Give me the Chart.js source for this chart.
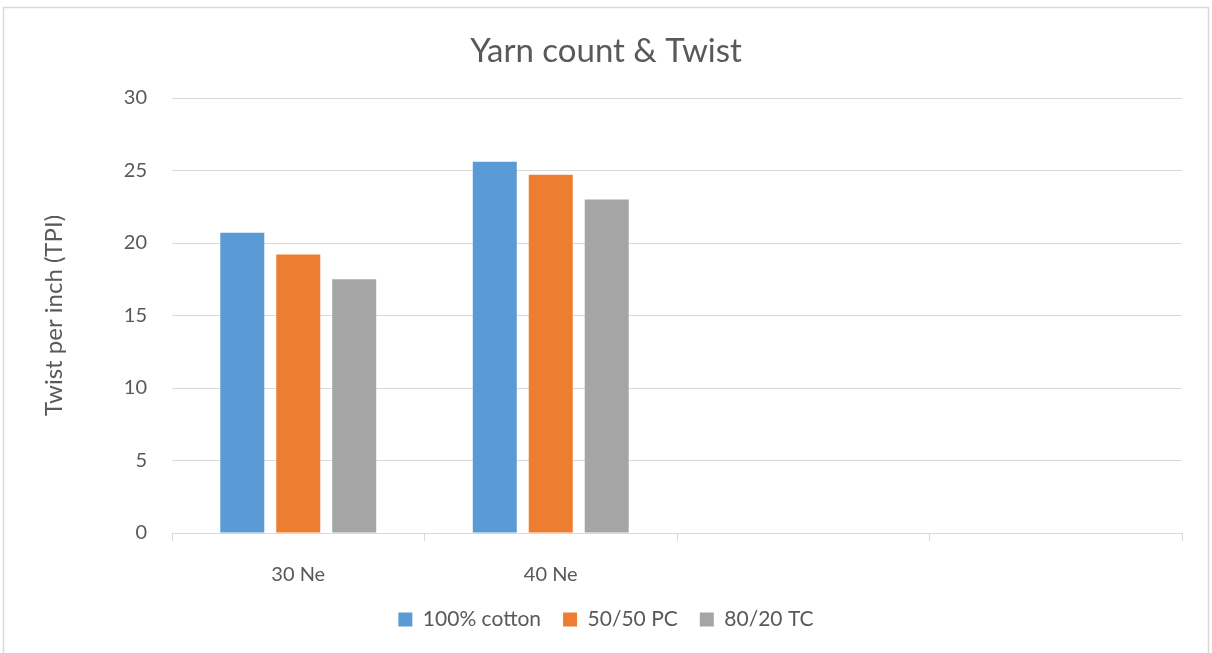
<!DOCTYPE html>
<html>
<head>
<meta charset="utf-8">
<title>Yarn count & Twist</title>
<script src="https://cdn.jsdelivr.net/npm/chart.js@4/dist/chart.umd.min.js"></script>
<style>
  html, body { margin: 0; padding: 0; background: #ffffff; }
  #wrap { width: 1212px; height: 653px; position: relative; }
</style>
</head>
<body>
<div id="wrap"><canvas id="chart" width="1212" height="653"></canvas></div>
<script>
// Yarn counts on the category axis (two empty slots keep the Excel-style spacing)
const categories = ['30 Ne', '40 Ne', '', ''];

// Twist per inch for each blend
const cotton100 = [20.7, 25.6, null, null];
const pc5050    = [19.2, 24.7, null, null];
const tc8020    = [17.5, 23.0, null, null];

const seriesNames = ['100% cotton', '50/50 PC', '80/20 TC'];
const yTicks = { min: 0, max: 30, step: 5 };

const TEXT = '#595959';
const GRID = '#d9d9d9';
const FONT = 'Lato, "Open Sans", "DejaVu Sans", sans-serif';

// light frame around the whole chart
const framePlugin = {
  id: 'frame',
  beforeDraw(chart) {
    const ctx = chart.ctx;
    ctx.save();
    ctx.strokeStyle = GRID;
    ctx.lineWidth = 1.5;
    ctx.strokeRect(3.5, 7.5, 1205, 700);
    ctx.restore();
  }
};

new Chart(document.getElementById('chart'), {
  type: 'bar',
  data: {
    labels: categories,
    datasets: [
      { label: seriesNames[0], data: cotton100, backgroundColor: '#5B9BD5' },
      { label: seriesNames[1], data: pc5050,    backgroundColor: '#ED7D31' },
      { label: seriesNames[2], data: tc8020,    backgroundColor: '#A5A5A5' }
    ]
  },
  options: {
    responsive: false,
    animation: false,
    devicePixelRatio: 1,
    categoryPercentage: 0.665,
    barPercentage: 0.786,
    layout: { padding: { top: 0, left: 0, right: 0, bottom: 13 } },
    plugins: {
      tooltip: { enabled: false },
      title: {
        display: true,
        text: 'Yarn count & Twist',
        color: TEXT,
        font: { family: FONT, size: 33, weight: 'normal', lineHeight: 1.2 },
        padding: { top: 32, bottom: 26.4 }
      },
      legend: {
        position: 'bottom',
        labels: {
          color: TEXT,
          font: { family: FONT, size: 21 },
          boxWidth: 14,
          boxHeight: 14,
          padding: 22
        }
      }
    },
    scales: {
      x: {
        grid: {
          display: true,
          offset: true,
          drawOnChartArea: false,
          drawTicks: true,
          tickLength: 8,
          color: GRID,
          lineWidth: 1
        },
        border: { display: true, color: GRID, width: 1 },
        ticks: { color: TEXT, font: { family: FONT, size: 20 }, padding: 22, maxRotation: 0 },
        afterFit(scale) { scale.height = 54; }
      },
      y: {
        min: yTicks.min,
        max: yTicks.max,
        ticks: { stepSize: yTicks.step, color: TEXT, font: { family: FONT, size: 20 }, padding: 25 },
        grid: { color: GRID, lineWidth: 1, drawTicks: false },
        border: { display: false },
        title: {
          display: true,
          text: 'Twist per inch (TPI)',
          color: TEXT,
          font: { family: FONT, size: 24, lineHeight: 1.2 },
          padding: { top: 40, bottom: 0 }
        },
        afterFit(scale) { scale.width = 172; }
      },
      yRight: {
        position: 'right',
        display: true,
        grid: { display: false, drawOnChartArea: false },
        border: { display: false },
        ticks: { display: false },
        afterFit(scale) { scale.width = 30; }
      }
    }
  },
  plugins: [framePlugin]
});
</script>
</body>
</html>
